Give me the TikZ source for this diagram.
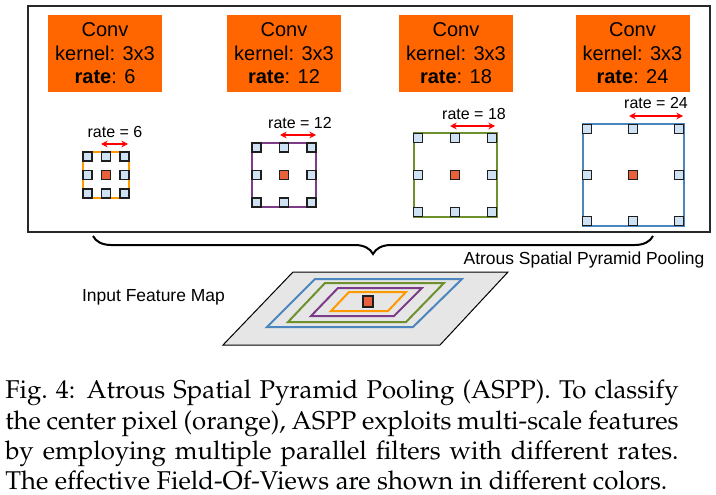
\documentclass[tikz,border=0pt]{standalone}
\usepackage{fontspec}
\usepackage[T1,TU]{fontenc}
\newfontfamily\arialfont{Liberation Sans}
\usepackage{xcolor}
\usepackage{tikz}
\usetikzlibrary{arrows.meta,decorations.pathreplacing,calc}
\usetikzlibrary{positioning}

\begin{document}
\begin{tikzpicture}[x=0.75pt,y=0.75pt,yscale=-1,xscale=1,
  convbox/.style={fill={rgb,255:red,255;green,102;blue,0}, minimum width=85.5pt, minimum height=57.75pt, inner sep=0pt, align=center, font=\arialfont\fontsize{15}{17.6}\selectfont},
  ratelabel/.style={inner sep=0pt, font=\arialfont\fontsize{12}{14}\selectfont},
  ratearrow/.style={color={rgb,255:red,255;green,0;blue,0}, line width=1.5, {Stealth[length=5pt,width=5pt]}-{Stealth[length=5pt,width=5pt]}},
  cell/.style={draw={rgb,255:red,30;green,30;blue,30}, fill={rgb,255:red,207;green,226;blue,243}, line width=0.8},
  centercell/.style={draw={rgb,255:red,30;green,30;blue,30}, fill={rgb,255:red,232;green,96;blue,60}, line width=0.8}]
\useasboundingbox (0,0) rectangle (716,495);

%Shape: Rectangle [frame]
\draw [color={rgb,255:red,40;green,40;blue,40}, line width=1] (28,6) rectangle (710,232);

% Conv boxes
\draw (105,53.5) node [convbox] (conv6) {Conv\\kernel: 3x3\\\textbf{rate}: 6};
\draw (284,53.5) node [convbox] (conv12) {Conv\\kernel: 3x3\\\textbf{rate}: 12};
\draw (456,53.5) node [convbox] (conv18) {Conv\\kernel: 3x3\\\textbf{rate}: 18};
\draw (632.5,53.5) node [convbox] (conv24) {Conv\\kernel: 3x3\\\textbf{rate}: 24};

%Shape: Square [rate 6]
\draw [color={rgb,255:red,255;green,153;blue,0}, line width=1.5] (83,152) rectangle (129,198);
\foreach \x in {87.5,106,124.5} \foreach \y in {156.5,175,193.5} \draw [cell] (\x-4.5,\y-4.5) rectangle ++(9,9);
\draw [centercell] (101.5,170.5) rectangle ++(9,9);
%Shape: Square [rate 12]
\draw [color={rgb,255:red,125;green,60;blue,135}, line width=1.5] (252,143) rectangle (316,207);
\foreach \x in {256.5,284,311.5} \foreach \y in {147.5,175,202.5} \draw [cell] (\x-4.5,\y-4.5) rectangle ++(9,9);
\draw [centercell] (279.5,170.5) rectangle ++(9,9);
%Shape: Square [rate 18]
\draw [color={rgb,255:red,110;green,145;blue,45}, line width=1.5] (413.5,133.5) rectangle (496.5,216.5);
\foreach \x in {418,455,492} \foreach \y in {138,175,212} \draw [cell] (\x-4.5,\y-4.5) rectangle ++(9,9);
\draw [centercell] (450.5,170.5) rectangle ++(9,9);
%Shape: Square [rate 24]
\draw [color={rgb,255:red,75;green,135;blue,190}, line width=1.5] (582.5,124.5) rectangle (683.5,225.5);
\foreach \x in {587,633,679} \foreach \y in {129,175,221} \draw [cell] (\x-4.5,\y-4.5) rectangle ++(9,9);
\draw [centercell] (628.5,170.5) rectangle ++(9,9);

% Rate arrows
\coordinate (r6l) at (101,144); \coordinate (r6r) at (128,144);
\coordinate (r12l) at (280,135); \coordinate (r12r) at (316,135);
\coordinate (r18l) at (450,126); \coordinate (r18r) at (495,126);
\coordinate (r24l) at (629,116); \coordinate (r24r) at (683,116);
\draw [ratearrow] (r6l) -- (r6r);
\draw [ratearrow] (r12l) -- (r12r);
\draw [ratearrow] (r18l) -- (r18r);
\draw [ratearrow] (r24l) -- (r24r);

% Text Node
\draw (115,132) node [ratelabel] (lab6) {rate = 6};
% Text Node
\draw (300,123) node [ratelabel] (lab12) {rate = 12};
% Text Node
\draw (474,114) node [ratelabel] (lab18) {rate = 18};
% Text Node
\draw (656,103) node [ratelabel] (lab24) {rate = 24};

%Curve Lines [brace]
\coordinate (braceL) at (93,236);
\coordinate (braceR) at (653,236);
\draw [line width=1.5, decorate, decoration={brace, amplitude=13.5pt}] (braceR) -- (braceL);

% Text Node
\draw (584,260) node [inner sep=0pt, font=\arialfont\fontsize{13.1}{15}\selectfont] (aspp) {Atrous Spatial Pyramid Pooling};
% Text Node
\draw (153.5,297) node [inner sep=0pt, font=\arialfont\fontsize{13.1}{15}\selectfont] (input) {Input Feature Map};

%Shape: Parallelogram [feature map]
\draw [fill={rgb,255:red,230;green,230;blue,230}, line width=0.75] (293,272) -- (508,272) -- (440,345) -- (223,345) -- cycle;
\draw [color={rgb,255:red,75;green,135;blue,190}, line width=1.5] (315,279) -- (462,279) -- (413,327) -- (267,327) -- cycle;
\draw [color={rgb,255:red,110;green,145;blue,45}, line width=1.5] (325,283) -- (444,283) -- (406,322) -- (288,322) -- cycle;
\draw [color={rgb,255:red,125;green,60;blue,135}, line width=1.5] (338,288) -- (422,288) -- (394,316) -- (311,316) -- cycle;
\draw [color={rgb,255:red,255;green,153;blue,0}, line width=1.5] (349,292) -- (406,292) -- (388,311) -- (331,311) -- cycle;
\draw [centercell] (363,296) rectangle (373,307);

% Caption
\draw (5,380) node [anchor=north west, inner sep=0pt, text width=505pt, align=justify, font=\fontencoding{T1}\fontfamily{ppl}\fontsize{19.3}{22.6}\selectfont] (caption) {\hyphenpenalty=10000 \emergencystretch=20pt Fig.~4: Atrous Spatial Pyramid Pooling (ASPP). To classify\linebreak the center pixel (orange), ASPP exploits multi-scale features\linebreak by employing multiple parallel filters with different rates.\linebreak The effective Field-Of-Views are shown in different colors.};

\end{tikzpicture}
\end{document}
